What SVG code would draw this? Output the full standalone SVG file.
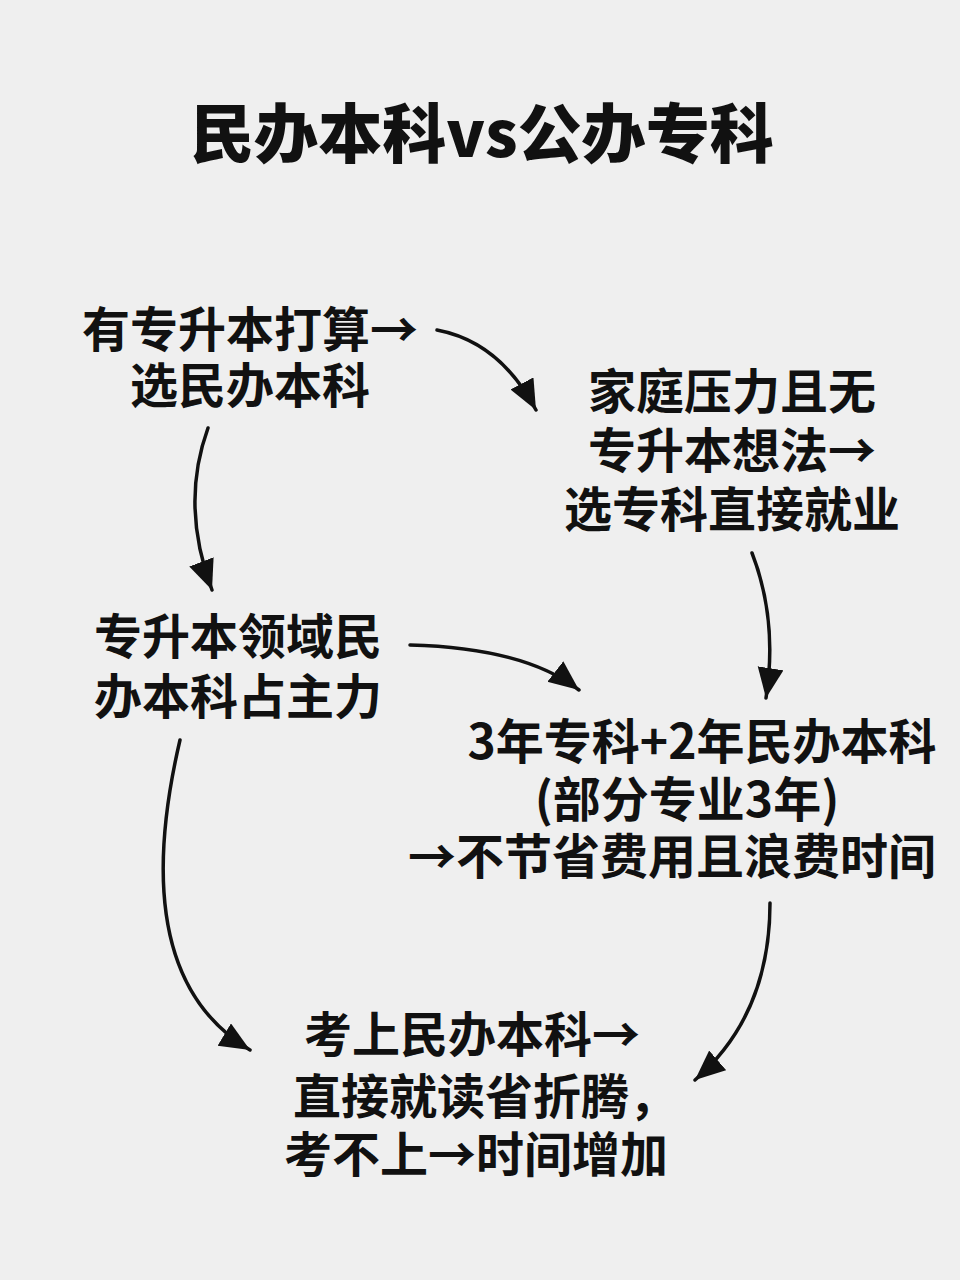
<svg xmlns="http://www.w3.org/2000/svg" width="960" height="1280" viewBox="0 0 960 1280">
<style>
.t{font-family:"Noto Sans CJK SC","Noto Sans",sans-serif;font-weight:700;fill:#111;text-anchor:middle}
.n{font-size:48px}
.title{font-size:64px;font-weight:900}
.c{fill:none;stroke:#111;stroke-width:3.5;stroke-linecap:round}
</style>
<defs>
<marker id="ah" markerUnits="userSpaceOnUse" markerWidth="32" markerHeight="28" refX="30" refY="13" orient="auto">
<path d="M0,0 L30,13 L0,26 z" fill="#111"/>
</marker>
</defs>
<rect width="960" height="1280" fill="#efefef"/>
<text class="t title" x="482" y="157">民办本科vs公办专科</text>
<g id="connectors">
<path class="c" d="M437 330 Q500 342 536 410" marker-end="url(#ah)"/>
<path class="c" d="M208 428 Q180 505 212 590" marker-end="url(#ah)"/>
<path class="c" d="M410 645 Q525 648 579 690" marker-end="url(#ah)"/>
<path class="c" d="M752 553 Q778 620 766 698" marker-end="url(#ah)"/>
<path class="c" d="M180 740 Q125 975 250 1050" marker-end="url(#ah)"/>
<path class="c" d="M770 903 Q770 1015 695 1080" marker-end="url(#ah)"/>
</g>
<g id="n1">
<text class="t n" x="250" y="347">有专升本打算→</text>
<text class="t n" x="250" y="403">选民办本科</text>
</g>
<g id="n2">
<text class="t n" x="732" y="409">家庭压力且无</text>
<text class="t n" x="732" y="468">专升本想法→</text>
<text class="t n" x="732" y="527">选专科直接就业</text>
</g>
<g id="n3">
<text class="t n" x="238" y="654">专升本领域民</text>
<text class="t n" x="238" y="714">办本科占主力</text>
</g>
<g id="n4">
<text class="t n" x="702" y="759">3年专科+2年民办本科</text>
<text class="t n" x="687" y="817">(部分专业3年)</text>
<text class="t n" x="672" y="874">→不节省费用且浪费时间</text>
</g>
<g id="n5">
<text class="t n" x="472" y="1052">考上民办本科→</text>
<text class="t n" x="485" y="1114">直接就读省折腾，</text>
<text class="t n" x="476" y="1172">考不上→时间增加</text>
</g>
</svg>
